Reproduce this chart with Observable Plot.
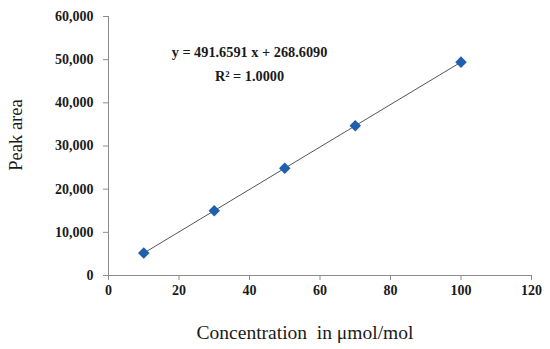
<!DOCTYPE html>
<html>
<head>
<meta charset="utf-8">
<script src="https://cdn.jsdelivr.net/npm/d3@7"></script>
<script src="https://cdn.jsdelivr.net/npm/@observablehq/plot@0.6"></script>
<style>
  html, body { margin: 0; padding: 0; background: #fff; }
</style>
</head>
<body>
<div id="chart"></div>
<script>
const concentration = [10, 30, 50, 70, 100];
const peakArea = [5190, 15020, 24850, 34680, 49430];
const xTicks = [0, 20, 40, 60, 80, 100, 120];
const yTicks = [0, 10000, 20000, 30000, 40000, 50000, 60000];
const equationLines = ["y = 491.6591 x + 268.6090", "R² = 1.0000"];
const slope = 491.6591, intercept = 268.6090;

const points = concentration.map((c, i) => ({x: c, y: peakArea[i]}));
const trend = [concentration[0], concentration[concentration.length - 1]].map(c => ({x: c, y: slope * c + intercept}));
const annot = [{x: 40, y: 51750, t: equationLines[0]}, {x: 40, y: 46200, t: equationLines[1]}];

const font = "Liberation Serif";
const axisColor = "#8c8c8c";

const chart = Plot.plot({
  width: 550,
  height: 349,
  marginLeft: 108,
  marginRight: 19,
  marginTop: 16,
  marginBottom: 74,
  style: {fontFamily: font, background: "#fff", color: "#1a1a1a"},
  x: {type: "linear", domain: [0, 120], ticks: xTicks, label: null},
  y: {type: "linear", domain: [0, 60000], ticks: yTicks, label: null},
  marks: [
    Plot.ruleX([0], {stroke: axisColor, strokeWidth: 1}),
    Plot.ruleY([0], {stroke: axisColor, strokeWidth: 1}),
    Plot.axisY({ticks: yTicks, tickFormat: d3.format(","), tickSize: 5, tickPadding: 10, stroke: axisColor, fill: "#1a1a1a", fontFamily: font, fontSize: 14, fontWeight: "bold", label: null}),
    Plot.axisX({ticks: xTicks, tickFormat: d => d, tickSize: 5, tickPadding: 5, stroke: axisColor, fill: "#1a1a1a", fontFamily: font, fontSize: 14, fontWeight: "bold", label: null}),
    Plot.line(trend, {x: "x", y: "y", stroke: "#555", strokeWidth: 1}),
    Plot.dot(points, {x: "x", y: "y", symbol: "diamond2", r: 5.2, fill: "#1f5fad", stroke: "none"}),
    Plot.text(annot, {x: "x", y: "y", text: "t", fontFamily: font, fontSize: 14.3, fontWeight: "bold", fill: "#1a1a1a"}),
    Plot.text(["Peak area"], {frameAnchor: "left", textAnchor: "middle", lineAnchor: "middle", dx: -92, dy: -11, rotate: -90, fontFamily: font, fontSize: 18.5, fill: "#1a1a1a"}),
    Plot.text(["Concentration  in μmol/mol"], {frameAnchor: "bottom", lineAnchor: "middle", dx: -15, dy: 57, fontFamily: font, fontSize: 19.5, fill: "#1a1a1a"})
  ]
});
document.getElementById("chart").appendChild(chart);
</script>
</body>
</html>
